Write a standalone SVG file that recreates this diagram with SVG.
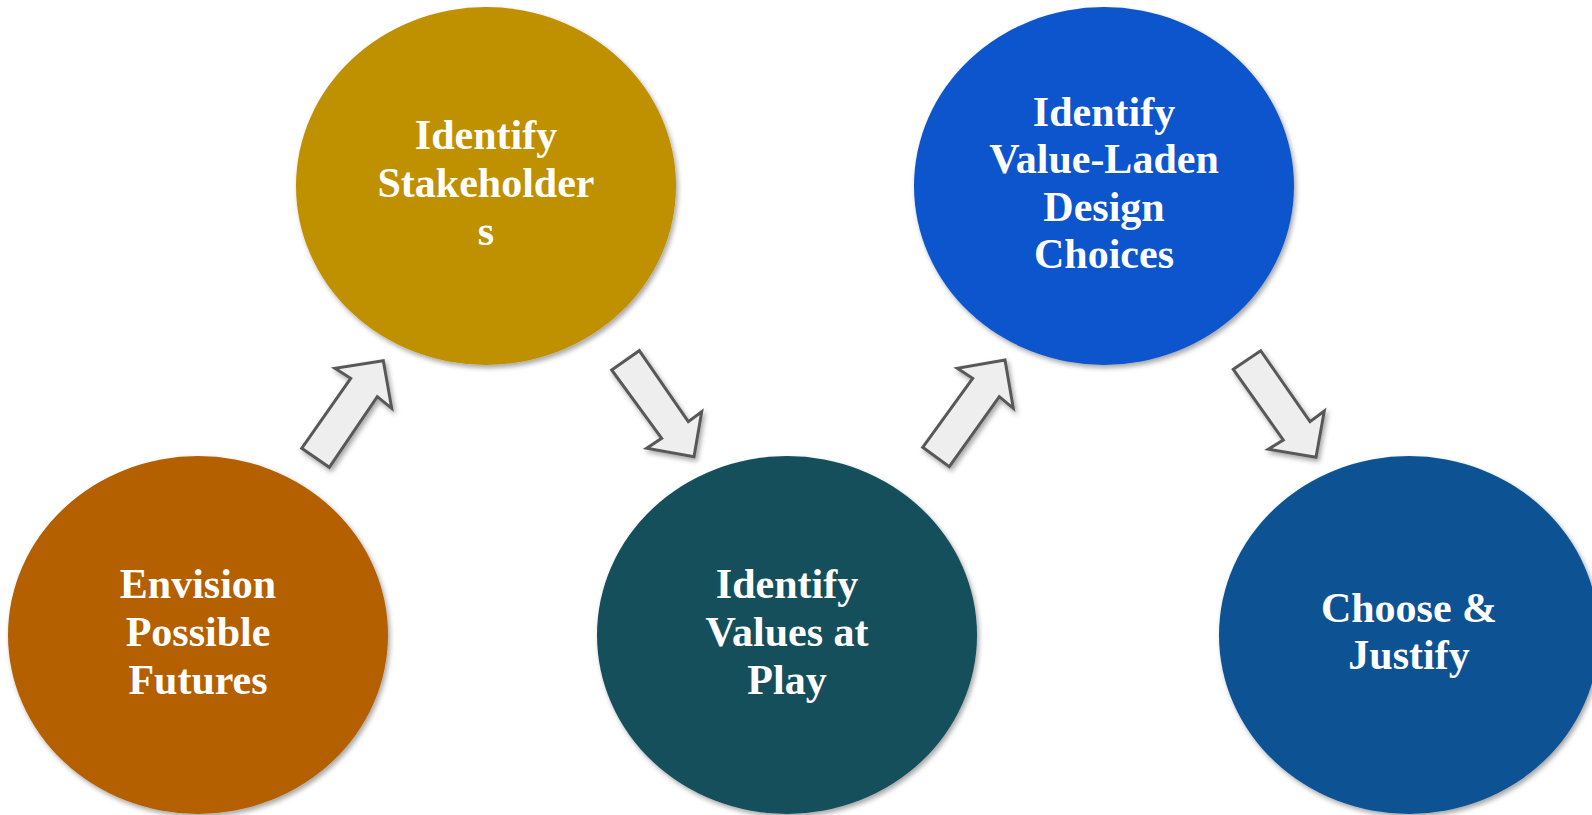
<svg xmlns="http://www.w3.org/2000/svg" width="1592" height="815" viewBox="0 0 1592 815">
<defs>
<filter id="sh" x="-10%" y="-10%" width="125%" height="125%">
<feDropShadow dx="2" dy="3" stdDeviation="2.5" flood-color="#000" flood-opacity="0.35"/>
</filter>
<style>
.lbl{font-family:"Liberation Serif","Times New Roman",serif;font-weight:bold;font-size:42px;fill:#ffffff;text-anchor:middle}
.arr{fill:#eeeeee;stroke:#595959;stroke-width:3;stroke-linejoin:miter;filter:url(#sh)}
.node{filter:url(#sh)}
</style>
</defs>
<rect width="1592" height="815" fill="#ffffff"/>
<g id="n1"><ellipse class="node" cx="198" cy="635" rx="190" ry="179" fill="#B45F06"/>
<text class="lbl"><tspan x="198" y="598">Envision</tspan><tspan x="198" y="646">Possible</tspan><tspan x="198" y="694">Futures</tspan></text></g>
<g id="n2"><ellipse class="node" cx="486" cy="186" rx="190" ry="179" fill="#BF9000"/>
<text class="lbl"><tspan x="486" y="149">Identify</tspan><tspan x="486" y="197">Stakeholder</tspan><tspan x="486" y="245">s</tspan></text></g>
<g id="n3"><ellipse class="node" cx="787" cy="635" rx="190" ry="179" fill="#134F5C"/>
<text class="lbl"><tspan x="787" y="598">Identify</tspan><tspan x="787" y="646">Values at</tspan><tspan x="787" y="694">Play</tspan></text></g>
<g id="n4"><ellipse class="node" cx="1104" cy="186" rx="190" ry="179" fill="#1155CC"/>
<text class="lbl"><tspan x="1104" y="126">Identify</tspan><tspan x="1104" y="173">Value-Laden</tspan><tspan x="1104" y="221">Design</tspan><tspan x="1104" y="268">Choices</tspan></text></g>
<g id="n5"><ellipse class="node" cx="1409" cy="635" rx="190" ry="179" fill="#0B5394"/>
<text class="lbl"><tspan x="1409" y="622">Choose &amp;</tspan><tspan x="1409" y="669">Justify</tspan></text></g>
<g id="connectors">
<polygon class="arr" points="301.7,448.3 329.3,467.3 377.3,396.7 391.7,408.3 383.3,360.7 335,368.3 350.7,378.3"/>
<polygon class="arr" points="611.7,370 639.3,350.7 688.3,421.7 701.7,411.7 694,456.7 646.7,448.3 661.7,438.3"/>
<polygon class="arr" points="922.7,447.3 949.3,466.7 999.3,396.7 1013.3,408.3 1005,360 957.3,368.3 972.7,378.3"/>
<polygon class="arr" points="1233.3,369.3 1260.7,350.7 1310,421.7 1324.3,411 1316,457.3 1268.3,449.3 1283.3,440"/>
</g>
</svg>
